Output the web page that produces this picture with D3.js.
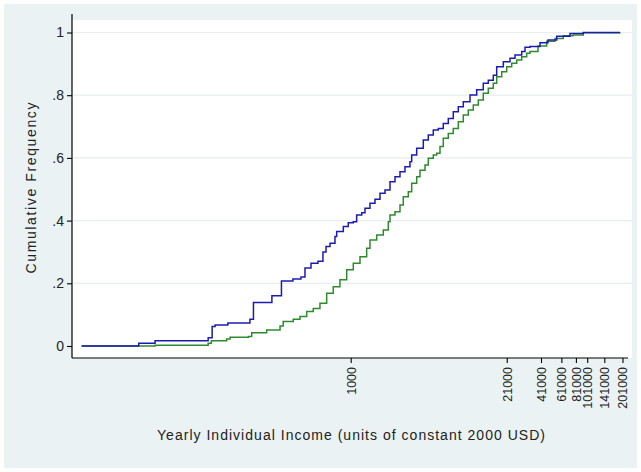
<!DOCTYPE html>
<html>
<head>
<meta charset="utf-8">
<script src="https://cdn.jsdelivr.net/npm/d3@7"></script>
<style>
  html, body { margin: 0; padding: 0; background: #ffffff; }
  svg { display: block; }
  text { font-family: "Liberation Sans", Arial, sans-serif; fill: #222; }
</style>
</head>
<body>
<svg id="chart" width="641" height="472"></svg>
<script>
// Empirical cumulative distributions of yearly income: [income, cumulative share]
const seriesBlue = [
  [5.25, 0], [16, 0.009], [22, 0.017], [62, 0.026], [67, 0.062], [71, 0.067],
  [91, 0.073], [140, 0.085], [150, 0.139], [215, 0.160], [259, 0.207], [324, 0.214],
  [379, 0.220], [410, 0.249], [461, 0.264], [528, 0.270], [582, 0.300], [618, 0.317],
  [668, 0.328], [736, 0.349], [761, 0.365], [866, 0.381], [954, 0.393], [1052, 0.396],
  [1124, 0.418], [1240, 0.425], [1322, 0.439], [1457, 0.455], [1607, 0.468],
  [1772, 0.487], [1953, 0.498], [2154, 0.524], [2374, 0.540], [2617, 0.556],
  [2885, 0.572], [3181, 0.588], [3288, 0.609], [3625, 0.631], [4124, 0.657],
  [4546, 0.673], [5012, 0.689], [5526, 0.694], [6091, 0.710], [6716, 0.726],
  [7404, 0.747], [8164, 0.763], [9000, 0.779], [10260, 0.801], [11690, 0.817],
  [13290, 0.838], [14660, 0.848], [16160, 0.864], [17270, 0.891], [19650, 0.907],
  [22390, 0.918], [24690, 0.928], [28130, 0.939], [30000, 0.953], [33070, 0.955],
  [40210, 0.967], [46990, 0.976], [55690, 0.988], [72190, 0.997], [93580, 1.0],
  [191500, 1.0]
];
const seriesGreen = [
  [5.25, 0], [22, 0.002], [62, 0.009], [66, 0.017], [89, 0.022], [95, 0.028],
  [136, 0.030], [145, 0.042], [194, 0.051], [252, 0.064], [268, 0.078], [326, 0.085],
  [372, 0.094], [424, 0.110], [482, 0.120], [549, 0.136], [626, 0.168], [712, 0.189],
  [811, 0.211], [925, 0.243], [1052, 0.264], [1199, 0.285], [1366, 0.312],
  [1457, 0.338], [1661, 0.354], [1889, 0.370], [2083, 0.396], [2154, 0.418],
  [2374, 0.428], [2617, 0.450], [2791, 0.476], [3077, 0.492], [3288, 0.519],
  [3625, 0.540], [3867, 0.561], [4264, 0.577], [4546, 0.599], [5012, 0.609],
  [5356, 0.615], [5713, 0.636], [6091, 0.663], [6716, 0.678], [7404, 0.694],
  [8164, 0.715], [9000, 0.737], [9922, 0.753], [10940, 0.769], [12060, 0.785],
  [13290, 0.806], [14660, 0.822], [16160, 0.838], [17270, 0.859], [19050, 0.875],
  [20990, 0.891], [23140, 0.902], [25520, 0.912], [28130, 0.923], [31000, 0.934],
  [33070, 0.939], [38650, 0.957], [45810, 0.972], [53850, 0.981], [63340, 0.990],
  [76550, 0.992], [93580, 0.999], [191500, 1.0]
];
const xTicks = [1000, 21000, 41000, 61000, 81000, 101000, 141000, 201000];
const yTicks = [0, 0.2, 0.4, 0.6, 0.8, 1];
const yTickLabels = ["0", ".2", ".4", ".6", ".8", "1"];
const xTitle = "Yearly Individual Income (units of constant 2000 USD)";
const yTitle = "Cumulative Frequency";

const W = 641, H = 472;
const plot = { left: 72, right: 632, top: 20, bottom: 358 };

const svg = d3.select("#chart");

// graph region and plot region backgrounds
svg.append("rect").attr("x", 4).attr("y", 4).attr("width", W - 8).attr("height", H - 8)
  .attr("fill", "#eaf2f3");
svg.append("rect").attr("x", plot.left).attr("y", plot.top)
  .attr("width", plot.right - plot.left).attr("height", plot.bottom - plot.top)
  .attr("fill", "#ffffff");

const x = d3.scaleLog().domain([4.35, 242000]).range([plot.left, plot.right]);
const y = d3.scaleLinear().domain([0, 1]).range([346, 32.5]);

// horizontal grid lines
svg.append("g").selectAll("line").data(yTicks.slice(1)).join("line")
  .attr("x1", plot.left + 1).attr("x2", plot.right)
  .attr("y1", d => y(d)).attr("y2", d => y(d))
  .attr("stroke", "#e6eef0").attr("stroke-width", 1.2);

// y axis
const yAxis = d3.axisLeft(y).tickValues(yTicks)
  .tickFormat((d, i) => yTickLabels[i]).tickSize(5).tickPadding(3);
const gy = svg.append("g").attr("transform", `translate(${plot.left},0)`).call(yAxis);
gy.select(".domain").attr("d", `M0,${plot.top - 6}V${plot.bottom}`)
  .attr("stroke", "#000").attr("stroke-width", 1.2);
gy.selectAll(".tick line").attr("stroke", "#000").attr("stroke-width", 1.1);
gy.selectAll(".tick text").attr("font-size", 14).attr("fill", "#222")
  .attr("font-family", "Liberation Sans, Arial, sans-serif");

// x axis
const xAxis = d3.axisBottom(x).tickValues(xTicks).tickFormat(d3.format("d"))
  .tickSize(5).tickPadding(3);
const gx = svg.append("g").attr("transform", `translate(0,${plot.bottom})`).call(xAxis);
gx.select(".domain").attr("d", `M${plot.left},0H${plot.right - 4}`)
  .attr("stroke", "#000").attr("stroke-width", 1.2);
gx.selectAll(".tick line").attr("stroke", "#000").attr("stroke-width", 1.1);
gx.selectAll(".tick text")
  .attr("font-size", 12.5).attr("fill", "#222")
  .attr("font-family", "Liberation Sans, Arial, sans-serif")
  .attr("transform", "rotate(-90)")
  .attr("text-anchor", "end")
  .attr("x", -9).attr("y", 0).attr("dy", "0.35em");

// step lines
const line = d3.line().x(d => x(d[0])).y(d => y(d[1])).curve(d3.curveStepAfter);
svg.append("path").datum(seriesGreen).attr("d", line)
  .attr("fill", "none").attr("stroke", "#2f8a2f").attr("stroke-width", 1.5);
svg.append("path").datum(seriesBlue).attr("d", line)
  .attr("fill", "none").attr("stroke", "#1c1cb0").attr("stroke-width", 1.5);

// axis titles
svg.append("text").attr("x", 351).attr("y", 440).attr("text-anchor", "middle")
  .attr("font-size", 14).attr("textLength", 388).attr("lengthAdjust", "spacing")
  .text(xTitle);
svg.append("text").attr("transform", "translate(36,188) rotate(-90)")
  .attr("text-anchor", "middle").attr("font-size", 14)
  .attr("textLength", 171).attr("lengthAdjust", "spacing")
  .text(yTitle);
</script>
</body>
</html>
